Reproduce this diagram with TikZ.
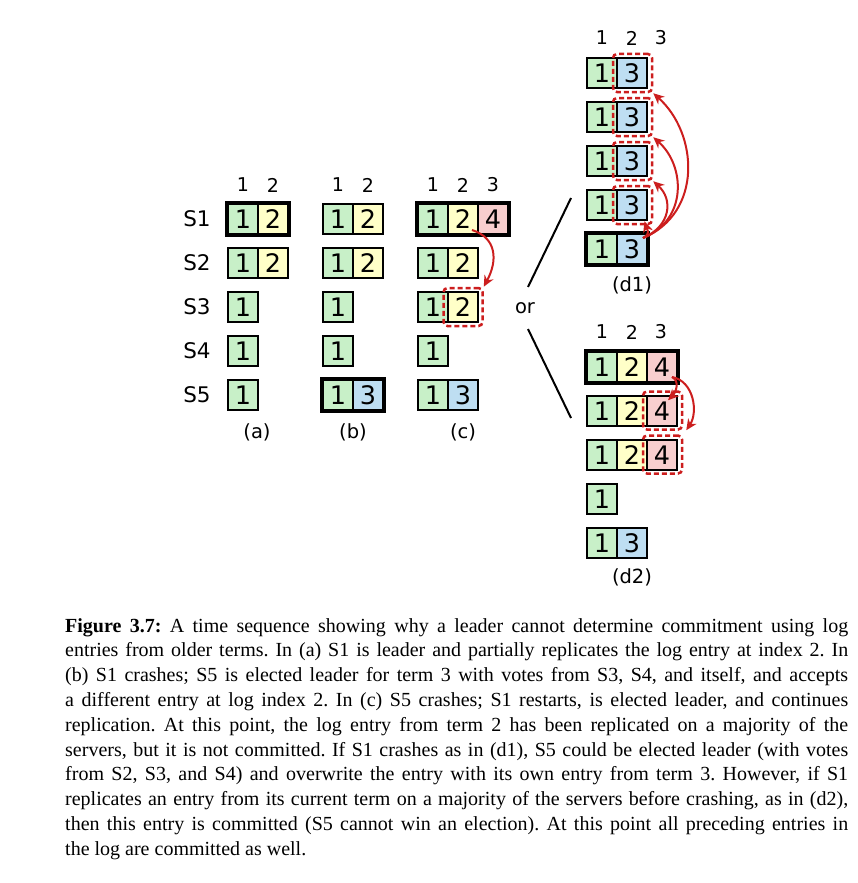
\documentclass[tikz,border=0pt]{standalone}
\usepackage{fontspec}
\setmainfont{DejaVu Sans}
\newfontfamily\capfont{Liberation Serif}
\usetikzlibrary{arrows.meta,calc}
\definecolor{cgreen}{RGB}{200,240,200}
\definecolor{cyellow}{RGB}{255,255,200}
\definecolor{cpink}{RGB}{248,206,206}
\definecolor{cblue}{RGB}{190,222,242}
\definecolor{cred}{RGB}{204,30,30}
\tikzset{
  cell/.style={draw=black, line width=2pt, minimum width=30pt, minimum height=30pt, inner sep=0pt, font=\fontsize{25.5}{25.5}\selectfont},
  gc/.style={cell, fill=cgreen},
  yc/.style={cell, fill=cyellow},
  pc/.style={cell, fill=cpink},
  bc/.style={cell, fill=cblue},
  lead/.style={draw=black, line width=4.5pt},
  dbox/.style={draw=cred, line width=2.5pt, dash pattern=on 5pt off 3pt, rounded corners=4pt, minimum width=39pt, minimum height=38pt, inner sep=0pt},
  rarr/.style={draw=cred, line width=2pt, -{Stealth[length=11pt,width=10pt]}},
  idx/.style={font=\fontsize{19}{19}\selectfont, inner sep=0pt},
  srv/.style={font=\fontsize{21.5}{21.5}\selectfont, inner sep=0pt},
  sublbl/.style={font=\fontsize{19.5}{19.5}\selectfont, inner sep=0pt},
  capl/.style={anchor=base west, inner sep=0pt, font=\capfont\fontsize{20}{24}\selectfont\frenchspacing},
  sep/.style={draw=black, line width=2pt}
}
\newcommand\capline[1]{\makebox[783pt][s]{#1}}
\begin{document}
\frenchspacing
\begin{tikzpicture}[x=1pt,y=-1pt]
\useasboundingbox (0,0) rectangle (858,883);
% server labels
\node[srv] (s1) at (197,219) {S1};
\node[srv] (s2) at (197,263) {S2};
\node[srv] (s3) at (197,307) {S3};
\node[srv] (s4) at (197,351) {S4};
\node[srv] (s5) at (197,395) {S5};
% index labels
\node[idx] (ia1) at (243,185) {1};
\node[idx] (ia2) at (273,185) {2};
\node[idx] (ib1) at (338,185) {1};
\node[idx] (ib2) at (368,185) {2};
\node[idx] (ic1) at (433,185) {1};
\node[idx] (ic2) at (463,185) {2};
\node[idx] (ic3) at (493,185) {3};
\node[idx] (id11) at (602,38) {1};
\node[idx] (id12) at (632,38) {2};
\node[idx] (id13) at (661,38) {3};
\node[idx] (id21) at (602,332) {1};
\node[idx] (id22) at (632,332) {2};
\node[idx] (id23) at (661,332) {3};
% (a)
\node[gc] (a1c1) at (243,219) {1};
\node[yc] (a1c2) at (273,219) {2};
\node[gc] (a2c1) at (243,263) {1};
\node[yc] (a2c2) at (273,263) {2};
\node[gc] (a3c1) at (243,307) {1};
\node[gc] (a4c1) at (243,351) {1};
\node[gc] (a5c1) at (243,395) {1};
\draw[lead] (a1c1.north west) rectangle (a1c2.south east);
% (b)
\node[gc] (b1c1) at (338,219) {1};
\node[yc] (b1c2) at (368,219) {2};
\node[gc] (b2c1) at (338,263) {1};
\node[yc] (b2c2) at (368,263) {2};
\node[gc] (b3c1) at (338,307) {1};
\node[gc] (b4c1) at (338,351) {1};
\node[gc] (b5c1) at (338,395) {1};
\node[bc] (b5c2) at (368,395) {3};
\draw[lead] (b5c1.north west) rectangle (b5c2.south east);
% (c)
\node[gc] (c1c1) at (433,219) {1};
\node[yc] (c1c2) at (463,219) {2};
\node[pc] (c1c3) at (493,219) {4};
\node[gc] (c2c1) at (433,263) {1};
\node[yc] (c2c2) at (463,263) {2};
\node[gc] (c3c1) at (433,307) {1};
\node[yc] (c3c2) at (463,307) {2};
\node[gc] (c4c1) at (433,351) {1};
\node[gc] (c5c1) at (433,395) {1};
\node[bc] (c5c2) at (463,395) {3};
\draw[lead] (c1c1.north west) rectangle (c1c3.south east);
\node[dbox] (c3d) at (463,307) {};
% (d1)
\node[gc] (d1r1c1) at (602,73) {1};
\node[bc] (d1r1c2) at (632,73) {3};
\node[gc] (d1r2c1) at (602,117) {1};
\node[bc] (d1r2c2) at (632,117) {3};
\node[gc] (d1r3c1) at (602,161) {1};
\node[bc] (d1r3c2) at (632,161) {3};
\node[gc] (d1r4c1) at (602,205) {1};
\node[bc] (d1r4c2) at (632,205) {3};
\node[gc] (d1r5c1) at (602,249) {1};
\node[bc] (d1r5c2) at (632,249) {3};
\draw[lead] (d1r5c1.north west) rectangle (d1r5c2.south east);
\node[dbox] (d1b1) at (632.5,73) {};
\node[dbox] (d1b2) at (632.5,117) {};
\node[dbox] (d1b3) at (632.5,161) {};
\node[dbox] (d1b4) at (632.5,205) {};
% (d2)
\node[gc] (d2r1c1) at (602,367) {1};
\node[yc] (d2r1c2) at (632,367) {2};
\node[pc] (d2r1c3) at (662,367) {4};
\node[gc] (d2r2c1) at (602,411) {1};
\node[yc] (d2r2c2) at (632,411) {2};
\node[pc] (d2r2c3) at (662,411) {4};
\node[gc] (d2r3c1) at (602,455) {1};
\node[yc] (d2r3c2) at (632,455) {2};
\node[pc] (d2r3c3) at (662,455) {4};
\node[gc] (d2r4c1) at (602,499) {1};
\node[gc] (d2r5c1) at (602,543) {1};
\node[bc] (d2r5c2) at (632,543) {3};
\draw[lead] (d2r1c1.north west) rectangle (d2r1c3.south east);
\node[dbox] (d2b2) at (662.5,410.5) {};
\node[dbox] (d2b3) at (662.5,454.5) {};
% sub labels
\node[sublbl] (la) at (257,432) {(a)};
\node[sublbl] (lb) at (353,432) {(b)};
\node[sublbl] (lc) at (463,432) {(c)};
\node[sublbl] (ld1) at (632,285) {(d1)};
\node[sublbl] (ld2) at (632,577) {(d2)};
% or
\node[sublbl] (or) at (525,308) {or};
\coordinate (l1a) at (528,287);
\coordinate (l1b) at (571,198);
\coordinate (l2a) at (528,329);
\coordinate (l2b) at (571,418);
\draw[sep] (l1a) -- (l1b);
\draw[sep] (l2a) -- (l2b);
% arrows (c)
\draw[rarr] ($(c1c2.center)+(9,11)$) .. controls +(25,8) and +(14,-26) .. (c3d.north east);
% arrows (d1)
\coordinate (d1s) at ($(d1r5c2.center)+(11,-11)$);
\draw[rarr] (d1s) .. controls +(8,-5) and +(3,9) .. ($(d1b4.south)+(12,-4)$);
\draw[rarr] (d1s) .. controls +(28,-12) and +(20,18) .. (d1b3.south east);
\draw[rarr] (d1s) .. controls +(45,-18) and +(32,28) .. (d1b2.south east);
\draw[rarr] (d1s) .. controls +(60,-25) and +(45,40) .. (d1b1.south east);
% arrows (d2)
\coordinate (d2s) at ($(d2r1c3.center)+(10,10)$);
\draw[rarr] (d2s) .. controls +(8,4) and +(8,-8) .. ($(d2b2.north)+(5.5,10)$);
\draw[rarr] (d2s) .. controls +(22,4) and +(12,-18) .. ($(d2b3.north east)+(3,-4)$);
% caption
\node[capl] (cap1) at (65,632) {\capline{\textbf{Figure 3.7:} A time sequence showing why a leader cannot determine commitment using log}};
\node[capl] (cap2) at (65,656.8) {\capline{entries from older terms. In (a) S1 is leader and partially replicates the log entry at index 2. In}};
\node[capl] (cap3) at (65,681.6) {\capline{(b) S1 crashes; S5 is elected leader for term 3 with votes from S3, S4, and itself, and accepts}};
\node[capl] (cap4) at (65,706.4) {\capline{a different entry at log index 2. In (c) S5 crashes; S1 restarts, is elected leader, and continues}};
\node[capl] (cap5) at (65,731.2) {\capline{replication. At this point, the log entry from term 2 has been replicated on a majority of the}};
\node[capl] (cap6) at (65,756) {\capline{servers, but it is not committed. If S1 crashes as in (d1), S5 could be elected leader (with votes}};
\node[capl] (cap7) at (65,780.8) {\capline{from S2, S3, and S4) and overwrite the entry with its own entry from term 3. However, if S1}};
\node[capl] (cap8) at (65,805.6) {\capline{replicates an entry from its current term on a majority of the servers before crashing, as in (d2),}};
\node[capl] (cap9) at (65,830.4) {\capline{then this entry is committed (S5 cannot win an election). At this point all preceding entries in}};
\node[capl] (cap10) at (65,855.2) {the log are committed as well.};
\end{tikzpicture}
\end{document}
